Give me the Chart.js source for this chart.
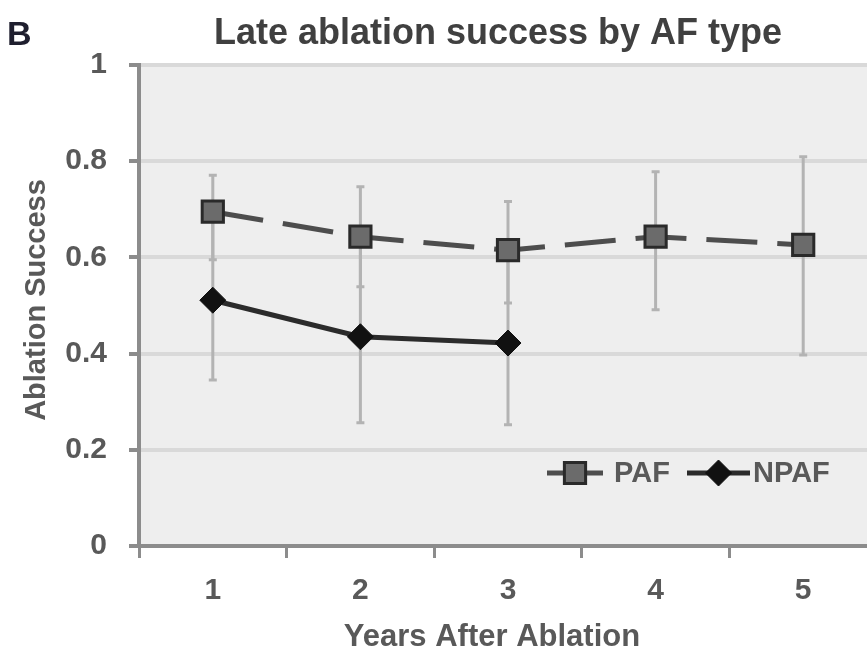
<!DOCTYPE html>
<html>
<head>
<meta charset="utf-8">
<title>Late ablation success by AF type</title>
<script src="https://cdn.jsdelivr.net/npm/chart.js@4.4.1/dist/chart.umd.min.js"></script>
<style>
  html, body { margin: 0; padding: 0; background: #fff; overflow: hidden; }
  #wrap { width: 895px; height: 653px; }
</style>
</head>
<body>
<div id="wrap"><canvas id="afChart" width="895" height="653"></canvas></div>
<script>
// Years after ablation
const years = ['1', '2', '3', '4', '5'];
const yTickLabels = ['0', '0.2', '0.4', '0.6', '0.8', '1'];

// Paroxysmal AF
const pafSuccess = [0.695, 0.643, 0.615, 0.643, 0.626];
const pafHigh = [0.771, 0.747, 0.716, 0.778, 0.809];
const pafLow = [0.595, 0.539, 0.505, 0.491, 0.397];

// Non-paroxysmal AF (followed for 3 years)
const npafSuccess = [0.511, 0.435, 0.422, null, null];
const npafHigh = [0.68, 0.63, 0.61, null, null];
const npafLow = [0.345, 0.256, 0.252, null, null];

const FONT = '"Liberation Sans", Arial, sans-serif';
const TEXT_GREY = '#595959';

// Grey plot background
const plotBackground = {
    id: 'plotBackground',
    beforeDraw(chart) {
        const { ctx, chartArea: a } = chart;
        ctx.save();
        ctx.fillStyle = '#eeeeee';
        ctx.fillRect(a.left, a.top, a.right - a.left, a.bottom - a.top);
        ctx.restore();
    }
};

// Vertical error bars with small caps, behind the lines
const errorBars = {
    id: 'errorBars',
    beforeDatasetsDraw(chart) {
        const ctx = chart.ctx;
        const xs = chart.scales.x;
        const ys = chart.scales.y;
        ctx.save();
        ctx.strokeStyle = '#b3b3b3';
        ctx.lineWidth = 3;
        chart.data.datasets.forEach(ds => {
            ds.values.forEach((v, i) => {
                if (v === null) return;
                const x = xs.getPixelForValue(i);
                const yHi = ys.getPixelForValue(ds.high[i]);
                const yLo = ys.getPixelForValue(ds.low[i]);
                ctx.beginPath();
                ctx.moveTo(x, yHi);
                ctx.lineTo(x, yLo);
                ctx.moveTo(x - 4, yHi);
                ctx.lineTo(x + 4, yHi);
                ctx.moveTo(x - 4, yLo);
                ctx.lineTo(x + 4, yLo);
                ctx.stroke();
            });
        });
        ctx.restore();
    }
};

// Titles, panel letter and the in-plot legend
const annotations = {
    id: 'annotations',
    afterDraw(chart) {
        const ctx = chart.ctx;
        ctx.save();

        ctx.fillStyle = '#1e1e2e';
        ctx.font = 'bold 34px ' + FONT;
        ctx.textAlign = 'left';
        ctx.textBaseline = 'alphabetic';
        ctx.fillText('B', 7, 45);

        ctx.fillStyle = '#404040';
        ctx.font = 'bold 36px ' + FONT;
        ctx.textAlign = 'center';
        ctx.fillText('Late ablation success by AF type', 498, 44);

        ctx.fillStyle = TEXT_GREY;
        ctx.font = 'bold 31px ' + FONT;
        ctx.fillText('Years After Ablation', 492, 646);

        ctx.font = 'bold 29px ' + FONT;
        ctx.save();
        ctx.translate(45, 300);
        ctx.rotate(-Math.PI / 2);
        ctx.fillText('Ablation Success', 0, 0);
        ctx.restore();

        // legend entries: short line with the marker on it, then the label
        const legendY = 473;
        const items = [
            { ds: chart.data.datasets[0], x0: 547, x1: 603, text: 'PAF', tx: 614 },
            { ds: chart.data.datasets[1], x0: 687, x1: 750, text: 'NPAF', tx: 753 }
        ];
        ctx.font = 'bold 29px ' + FONT;
        ctx.textAlign = 'left';
        ctx.textBaseline = 'middle';
        items.forEach(it => {
            const ds = it.ds;
            ctx.strokeStyle = ds.borderColor;
            ctx.lineWidth = ds.borderWidth;
            ctx.setLineDash([]);
            ctx.beginPath();
            ctx.moveTo(it.x0, legendY);
            ctx.lineTo(it.x1, legendY);
            ctx.stroke();
            ctx.fillStyle = ds.pointBackgroundColor;
            ctx.strokeStyle = ds.pointBorderColor;
            ctx.lineWidth = ds.pointBorderWidth;
            Chart.helpers.drawPoint(ctx, {
                pointStyle: ds.pointStyle,
                radius: ds.pointRadius,
                rotation: 0,
                borderWidth: ds.pointBorderWidth
            }, (it.x0 + it.x1) / 2, legendY);
            ctx.fillStyle = TEXT_GREY;
            ctx.fillText(it.text, it.tx, legendY + 1);
        });

        ctx.restore();
    }
};

const ctx = document.getElementById('afChart');
const afChart = new Chart(ctx, {
    type: 'line',
    data: {
        labels: years,
        datasets: [{
            label: 'PAF',
            data: pafSuccess,
            values: pafSuccess,
            high: pafHigh,
            low: pafLow,
            borderColor: '#4d4d4d',
            borderWidth: 5,
            borderDash: [51, 20],
            pointStyle: 'rect',
            pointRadius: 15,
            pointBackgroundColor: '#6b6b6b',
            pointBorderColor: '#2a2a2a',
            pointBorderWidth: 3,
            tension: 0
        }, {
            label: 'NPAF',
            data: npafSuccess,
            values: npafSuccess,
            high: npafHigh,
            low: npafLow,
            borderColor: '#2b2b2b',
            borderWidth: 5,
            pointStyle: 'rectRot',
            pointRadius: 13,
            pointBackgroundColor: '#111',
            pointBorderColor: '#111',
            pointBorderWidth: 1,
            tension: 0
        }]
    },
    options: {
        responsive: false,
        animation: false,
        layout: {
            padding: { top: 65, right: 3, left: 0, bottom: 0 }
        },
        plugins: {
            legend: { display: false },
            title: { display: false },
            tooltip: { enabled: false }
        },
        scales: {
            x: {
                type: 'category',
                offset: true,
                afterFit(scale) { scale.height = 107; },
                grid: {
                    offset: true,
                    drawOnChartArea: false,
                    tickLength: 12,
                    tickColor: '#8c8c8c',
                    lineWidth: 3
                },
                border: { color: '#8c8c8c', width: 4 },
                ticks: {
                    color: TEXT_GREY,
                    padding: 15,
                    font: { family: FONT, size: 30, weight: 'bold' }
                }
            },
            y: {
                min: 0,
                max: 1,
                afterFit(scale) { scale.width = 139; },
                grid: {
                    color: '#d9d9d9',
                    lineWidth: 4,
                    tickLength: 10,
                    tickColor: '#8c8c8c'
                },
                border: { color: '#8c8c8c', width: 4 },
                ticks: {
                    stepSize: 0.2,
                    color: TEXT_GREY,
                    padding: 22,
                    font: { family: FONT, size: 30, weight: 'bold' },
                    callback: (value, index) => yTickLabels[index]
                }
            }
        }
    },
    plugins: [plotBackground, errorBars, annotations]
});
</script>
</body>
</html>
